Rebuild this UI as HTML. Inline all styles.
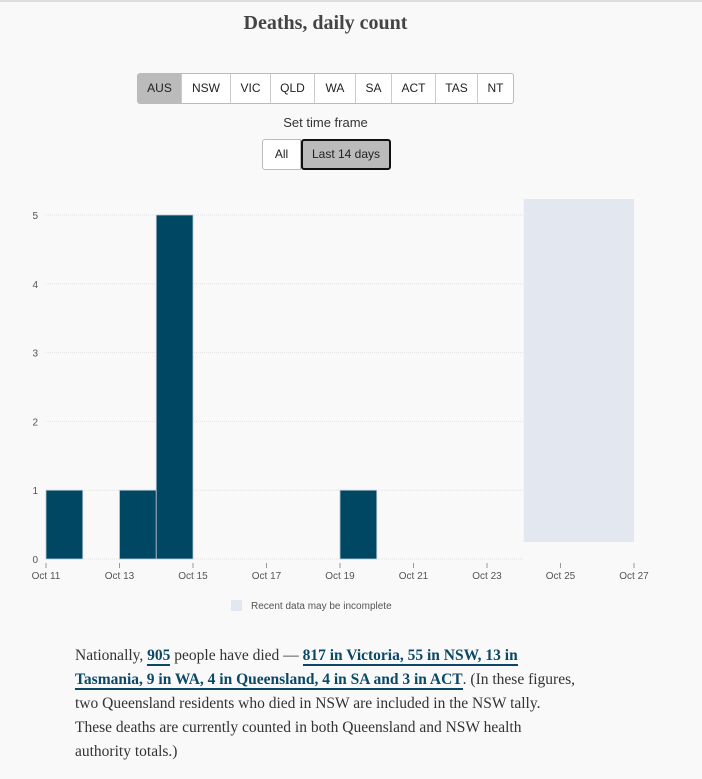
<!DOCTYPE html>
<html><head><meta charset="utf-8"><style>
body{margin:0;width:702px;height:779px;background:#f9f9f9;font-family:"Liberation Sans",sans-serif;position:relative;overflow:hidden;border-top:2px solid #ddd;box-sizing:border-box}
h1{position:absolute;top:10px;left:0;width:651px;text-align:center;margin:0;font:bold 20px "Liberation Serif",serif;color:#444}
.btns{position:absolute;top:71px;left:137px;display:flex;border:1px solid #bbb;border-radius:3px;overflow:hidden;background:#fff}
.btns div{height:29px;line-height:29px;font-size:12px;color:#222;text-align:center;border-left:1px solid #ccc}
.btns div:first-child{border-left:none;background:#bbb}
.tf{position:absolute;top:113px;left:0;width:651px;text-align:center;font-size:13px;color:#333}
.t2{position:absolute;top:137px;left:262px;display:flex}
.t2 div{height:29px;line-height:29px;font-size:12px;text-align:center;color:#222}
p{position:absolute;left:75px;top:642px;width:500px;margin:0;font:15.5px/24px "Liberation Serif",serif;color:#333}
a{color:#0b4866;font-weight:bold;text-decoration:none;border-bottom:2px solid #0b4866}
</style></head><body>
<h1>Deaths, daily count</h1>
<div class="btns">
<div style="width:43px">AUS</div>
<div style="width:48px">NSW</div>
<div style="width:39px">VIC</div>
<div style="width:43px">QLD</div>
<div style="width:40px">WA</div>
<div style="width:35px">SA</div>
<div style="width:43px">ACT</div>
<div style="width:41px">TAS</div>
<div style="width:35px">NT</div>
</div>
<div class="tf">Set time frame</div>
<div class="t2">
<div style="width:37px;border:1px solid #bbb;border-radius:3px 0 0 3px;background:#fff">All</div>
<div style="width:86px;border:2px solid #111;border-radius:3px;background:#bbb;height:27px;line-height:27px">Last 14 days</div>
</div>
<svg id="chart" width="702" height="620" style="position:absolute;left:0;top:0"></svg>
<p>Nationally, <a>905</a> people have died — <a>817 in Victoria, 55 in NSW, 13 in Tasmania, 9 in WA, 4 in Queensland, 4 in SA and 3 in ACT</a>. (In these figures, two Queensland residents who died in NSW are included in the NSW tally. These deaths are currently counted in both Queensland and NSW health authority totals.)</p>
<script>
const days=[11,12,13,14,15,16,17,18,19,20,21,22,23,24,25,26];
const values=[1,0,1,5,0,0,0,0,1,0,0,0,0,0,0,0];
const yTicks=[0,1,2,3,4,5];
const xTicks=[11,13,15,17,19,21,23,25,27];
const incompleteStart=24, incompleteEnd=27;
const svg=document.getElementById('chart');
const NS='http://www.w3.org/2000/svg';
const x=d=>46+(d-11)*36.75;
const y=v=>557-v*68.8;
function mk(t,a){const e=document.createElementNS(NS,t);for(const k in a)e.setAttribute(k,a[k]);svg.appendChild(e);return e;}
let r=mk('rect',{x:x(incompleteStart),y:197,width:x(incompleteEnd)-x(incompleteStart),height:343,fill:'#e2e7f0'});


yTicks.forEach(v=>{
 const l=mk('line',{x1:46,x2:x(incompleteStart),y1:y(v),y2:y(v),stroke:'#e3e3e3','stroke-dasharray':'1,1'});
 
 
 const t=mk('text',{x:38,y:y(v)+4,'font-size':10,fill:'#555','text-anchor':'end'});t.textContent=v;
 
 
});
days.forEach((d,i)=>{if(!values[i])return;
 const b=mk('rect',{x:x(d),y:y(values[i]),width:36.75,height:y(0)-y(values[i]),fill:'#004764',stroke:'#b8c8d4','stroke-width':0.8});
 
 
});
xTicks.forEach(d=>{
 const l=mk('line',{x1:x(d),x2:x(d),y1:561,y2:566,stroke:'#999'});
 
 
 const t=mk('text',{x:x(d),y:577,'font-size':10,fill:'#555','text-anchor':'middle'});t.textContent='Oct '+d;
 
 
});
const ls=mk('rect',{x:231,y:598,width:11,height:11,fill:'#e2e7f0'});


const lt=mk('text',{x:251,y:607,'font-size':10,fill:'#555'});lt.textContent='Recent data may be incomplete';


</script>
</body></html>
